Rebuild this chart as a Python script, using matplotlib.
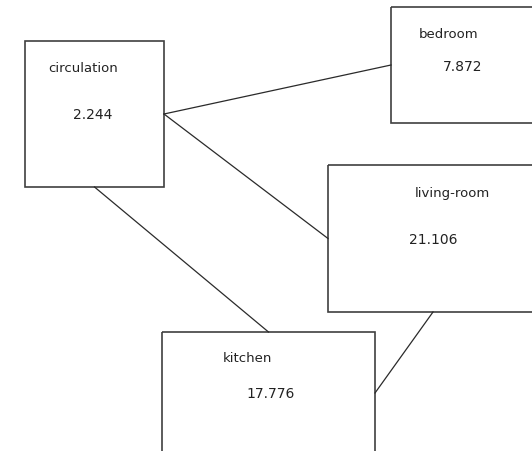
import matplotlib
matplotlib.use("Agg")
from matplotlib import pyplot as plt
from matplotlib.patches import Rectangle

# rooms and their areas
rooms = ['circulation', 'bedroom', 'living-room', 'kitchen']
areas = [2.244, 7.872, 21.106, 17.776]

# adjacency between rooms
links = [('circulation', 'bedroom'),
         ('circulation', 'living-room'),
         ('circulation', 'kitchen'),
         ('kitchen', 'living-room')]

# layout in pixel coords: x, y (top), width, height
boxes = {'circulation': (25, 41, 139, 146),
         'bedroom': (391, 7, 160, 116),
         'living-room': (328, 165, 210, 147),
         'kitchen': (162, 332, 213, 122)}

# label offsets inside each box (name, value)
label_pos = {'circulation': ((48, 69), (73, 115)),
             'bedroom': ((419, 34), (443, 67)),
             'living-room': ((415, 193), (409, 240)),
             'kitchen': ((223, 359), (246, 394))}

# which side of the box each link leaves from
anchors = {('circulation', 'bedroom'): ('right', 'left'),
           ('circulation', 'living-room'): ('right', 'left'),
           ('circulation', 'kitchen'): ('bottom', 'top'),
           ('kitchen', 'living-room'): ('right', 'bottom')}


def side_point(name, side):
    x, y, w, h = boxes[name]
    if side == 'right':
        return x + w, y + h / 2
    if side == 'left':
        return x, y + h / 2
    if side == 'top':
        return x + w / 2, y
    return x + w / 2, y + h


fig = plt.figure(figsize=(5.32, 4.51), dpi=100)
ax = fig.add_axes([0, 0, 1, 1])
ax.set_xlim(0, 532)
ax.set_ylim(451, 0)
ax.axis('off')

for a, b in links:
    sa, sb = anchors[(a, b)]
    x0, y0 = side_point(a, sa)
    x1, y1 = side_point(b, sb)
    ax.plot([x0, x1], [y0, y1], color='#2a2a2a', lw=0.9)

for name, area in zip(rooms, areas):
    x, y, w, h = boxes[name]
    ax.add_patch(Rectangle((x, y), w, h, fill=False, edgecolor='#404040', lw=1.2))
    (nx, ny), (vx, vy) = label_pos[name]
    ax.text(nx, ny, name, fontsize=9.5, color='#222222', va='center', ha='left')
    ax.text(vx, vy, f'{area:.3f}', fontsize=10, color='#222222', va='center', ha='left')

fig.savefig('out.png', dpi=100)
